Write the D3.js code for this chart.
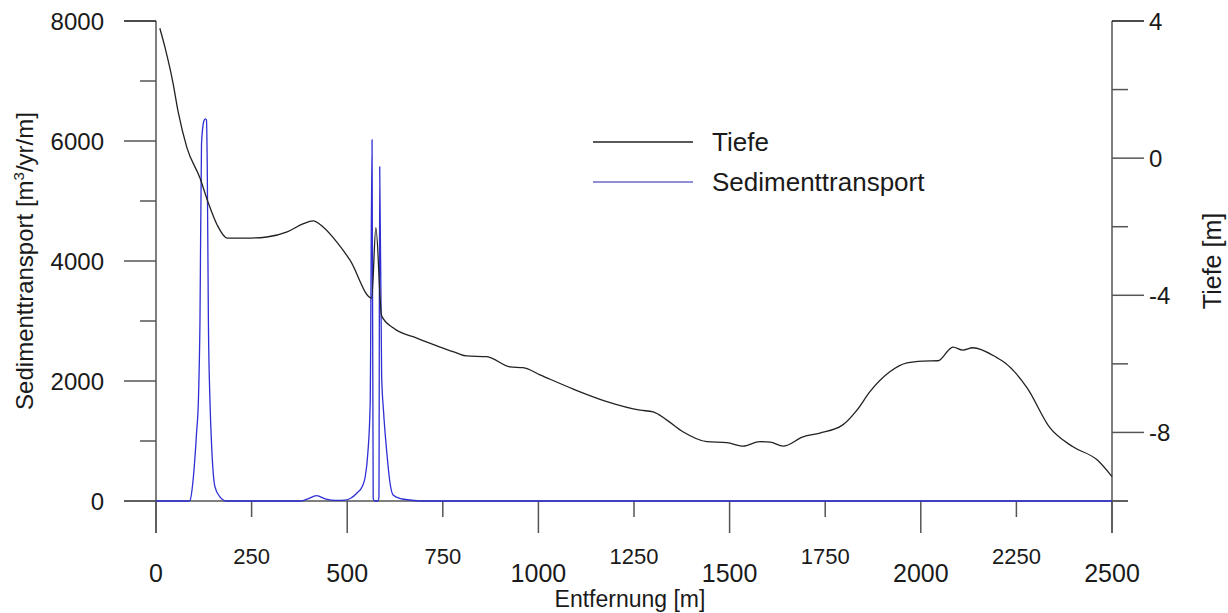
<!DOCTYPE html>
<html>
<head>
<meta charset="utf-8">
<script src="https://cdn.jsdelivr.net/npm/d3@7"></script>
<style>
  html, body { margin: 0; padding: 0; background: #fff; }
  svg { display: block; }
  text { font-family: "Liberation Sans", Arial, sans-serif; fill: #1a1a1a; }
</style>
</head>
<body>
<svg id="chart" width="1228" height="613"></svg>
<script>
// ---- Data ----
const depthDist = [10, 24, 44, 58, 81, 115, 136, 160, 186, 246, 290, 343, 384, 411, 437, 473, 507, 564, 575, 590, 620, 682, 743, 786, 812, 865, 926, 960, 1004, 1090, 1179, 1266, 1300, 1336, 1378, 1441, 1493, 1535, 1579, 1606, 1640, 1692, 1736, 1796, 1833, 1867, 1919, 1964, 2006, 2045, 2084, 2110, 2136, 2199, 2220, 2278, 2338, 2398, 2461, 2500];
const depthVals = [3.79, 3.21, 2.22, 1.35, 0.30, -0.58, -1.28, -1.95, -2.33, -2.33, -2.30, -2.15, -1.92, -1.83, -2.01, -2.45, -2.97, -4.08, -2.03, -4.60, -4.95, -5.25, -5.51, -5.68, -5.77, -5.79, -6.09, -6.11, -6.32, -6.73, -7.10, -7.35, -7.40, -7.64, -7.98, -8.27, -8.30, -8.40, -8.27, -8.28, -8.40, -8.13, -8.02, -7.78, -7.35, -6.81, -6.23, -5.97, -5.92, -5.91, -5.51, -5.60, -5.53, -5.82, -5.97, -6.70, -7.87, -8.42, -8.80, -9.29];

const sedDist = [0, 85, 89, 97, 106, 111, 115, 119, 125, 129, 132, 134, 137, 141, 146, 154, 167, 185, 376, 395, 420, 445, 470, 494, 510, 525, 540, 547, 554, 560, 565, 568, 572, 580, 583, 585, 590, 595, 603, 612, 620, 640, 664, 698, 2500];
const sedVals  = [0, 0, 10, 350, 1130, 1700, 3000, 5950, 6330, 6370, 6350, 5600, 3000, 1700, 850, 240, 70, 0, 0, 30, 88, 30, 10, 15, 50, 130, 250, 400, 800, 1600, 6020, 40, 0, 0, 60, 5570, 2100, 1500, 850, 300, 100, 40, 17, 0, 0];

const xMajor = [0, 500, 1000, 1500, 2000, 2500];
const xMinor = [250, 750, 1250, 1750, 2250];
const yLeftMajor = [0, 2000, 4000, 6000, 8000];
const yLeftMinor = [1000, 3000, 5000, 7000];
const yRightMajor = [4, 0, -4, -8];
const yRightMinor = [2, -2, -6, -10];

const seriesNames = ["Tiefe", "Sedimenttransport"];
const xTitle = "Entfernung [m]";
const yRightTitle = "Tiefe [m]";

// ---- Layout ----
const plot = { left: 156, right: 1112, top: 21, bottom: 501 };
const majorLen = 32, minorLen = 16;
const axisColor = "#555";
const blackLine = "#222";
const blueLine = "#2e2ed4";

const svg = d3.select("#chart");

const x = d3.scaleLinear().domain([0, 2500]).range([plot.left, plot.right]);
const yL = d3.scaleLinear().domain([0, 8000]).range([plot.bottom, plot.top]);
const yR = d3.scaleLinear().domain([-10, 4]).range([plot.bottom, plot.top]);

const gAx = svg.append("g").attr("stroke", axisColor).attr("stroke-width", 1.5);

// axis lines
gAx.append("line").attr("x1", x(0)).attr("x2", x(0)).attr("y1", yL(8000)).attr("y2", yL(0) + majorLen);
gAx.append("line").attr("x1", x(2500)).attr("x2", x(2500)).attr("y1", yR(4)).attr("y2", yL(0) + majorLen);
gAx.append("line").attr("x1", x(0) - majorLen).attr("x2", x(2500) + minorLen).attr("y1", yL(0)).attr("y2", yL(0));

// left ticks
gAx.selectAll(".lmaj").data(yLeftMajor).join("line")
  .attr("x1", x(0) - majorLen).attr("x2", x(0)).attr("y1", d => yL(d)).attr("y2", d => yL(d))
  .attr("stroke", d => d === 8000 ? "#111" : axisColor);
gAx.selectAll(".lmin").data(yLeftMinor).join("line")
  .attr("x1", x(0) - minorLen).attr("x2", x(0)).attr("y1", d => yL(d)).attr("y2", d => yL(d));
// right ticks
gAx.selectAll(".rmaj").data(yRightMajor).join("line")
  .attr("x1", x(2500)).attr("x2", x(2500) + majorLen).attr("y1", d => yR(d)).attr("y2", d => yR(d))
  .attr("stroke", d => d === 4 ? "#111" : axisColor);
gAx.selectAll(".rmin").data(yRightMinor).join("line")
  .attr("x1", x(2500)).attr("x2", x(2500) + minorLen).attr("y1", d => yR(d)).attr("y2", d => yR(d));
// bottom ticks
gAx.selectAll(".bmaj").data(xMajor).join("line")
  .attr("x1", d => x(d)).attr("x2", d => x(d)).attr("y1", yL(0)).attr("y2", yL(0) + majorLen);
gAx.selectAll(".bmin").data(xMinor).join("line")
  .attr("x1", d => x(d)).attr("x2", d => x(d)).attr("y1", yL(0)).attr("y2", yL(0) + minorLen);

// tick labels
const gT = svg.append("g");
gT.selectAll(".tl").data(yLeftMajor).join("text")
  .attr("x", x(0) - majorLen - 20).attr("y", d => yL(d)).attr("dy", "0.36em")
  .attr("text-anchor", "end").attr("font-size", 24).text(d => d);
gT.selectAll(".tr").data(yRightMajor).join("text")
  .attr("x", x(2500) + majorLen + 5).attr("y", d => yR(d)).attr("dy", "0.36em")
  .attr("text-anchor", "start").attr("font-size", 24).text(d => d);
gT.selectAll(".tbM").data(xMajor).join("text")
  .attr("x", d => x(d)).attr("y", yL(0) + 81).attr("text-anchor", "middle")
  .attr("font-size", 25).text(d => d);
gT.selectAll(".tbm").data(xMinor).join("text")
  .attr("x", d => x(d)).attr("y", yL(0) + 63).attr("text-anchor", "middle")
  .attr("font-size", 22).text(d => d);

// titles
svg.append("text").attr("x", 630).attr("y", 607)
  .attr("text-anchor", "middle").attr("font-size", 23).text(xTitle);
const lt = svg.append("text").attr("transform", `translate(33, ${(plot.top + plot.bottom) / 2}) rotate(-90)`)
  .attr("text-anchor", "middle").attr("font-size", 24);
lt.append("tspan").text("Sedimenttransport [m");
lt.append("tspan").attr("font-size", 15).attr("dy", -9).text("3");
lt.append("tspan").attr("dy", 9).text("/yr/m]");
svg.append("text").attr("transform", `translate(1221, ${(plot.top + plot.bottom) / 2}) rotate(-90)`)
  .attr("text-anchor", "middle").attr("font-size", 25).text(yRightTitle);

// series
const depthData = depthDist.map((d, i) => [d, depthVals[i]]);
const sedData = sedDist.map((d, i) => [d, sedVals[i]]);

svg.append("path").datum(sedData)
  .attr("fill", "none").attr("stroke", blueLine).attr("stroke-width", 1.3)
  .attr("d", d3.line().x(d => x(d[0])).y(d => yL(d[1])).curve(d3.curveMonotoneX));

svg.append("path").datum(depthData)
  .attr("fill", "none").attr("stroke", blackLine).attr("stroke-width", 1.3)
  .attr("d", d3.line().x(d => x(d[0])).y(d => yR(d[1])).curve(d3.curveMonotoneX));

// legend
const legend = svg.append("g").attr("transform", "translate(593, 142)");
const legColors = [blackLine, "#6a6ac8"];
seriesNames.forEach((name, i) => {
  const g = legend.append("g").attr("transform", `translate(0, ${i * 40})`);
  g.append("line").attr("x1", 0).attr("x2", 100).attr("y1", 0).attr("y2", 0)
    .attr("stroke", legColors[i]).attr("stroke-width", 1.3);
  g.append("text").attr("x", 119).attr("y", 0).attr("dy", "0.36em")
    .attr("font-size", 26).text(name);
});
</script>
</body>
</html>
